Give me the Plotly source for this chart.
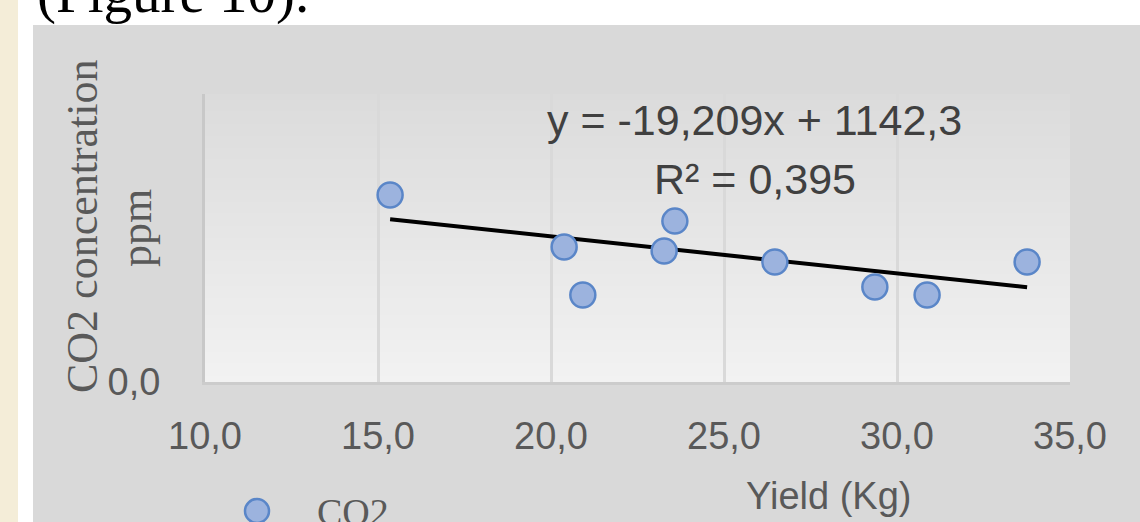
import plotly.graph_objects as go

# Yield (kg) against measured CO2 concentration (ppm)
yield_kg = [15.35, 20.38, 20.92, 23.27, 23.58, 26.47, 29.36, 30.87, 33.76]
co2_ppm = [974, 703, 453, 682, 838, 625, 495, 453, 625]

# Reported linear trend: y = slope * x + intercept
trend_slope = -19.209
trend_intercept = 1142.3
trend_r2 = 0.395

x_tick_values = [10, 15, 20, 25, 30, 35]
y_tick_values = [0]
x_range = [10, 35]
y_range = [0, 1500]

series_name = "CO2"
x_title = "Yield (Kg)"
y_title_lines = ["CO2 concentration", "ppm"]
caption_text = "(Figure 10)."

# Page geometry (pixels)
W, H = 1140, 522
PL, PR, PT, PB = 205, 1070, 94, 382  # plot box edges

def fx(px):
    return (px - PL) / (PR - PL)

def fy(py):
    return (PB - py) / (PB - PT)

def comma(v, nd):
    return f"{v:.{nd}f}".replace(".", ",")

SANS = "Liberation Sans, Arial, sans-serif"
SERIF = "Liberation Serif, Times New Roman, serif"
LABEL_GREY = "#595959"
MARKER_FILL = "#9cb3de"
MARKER_EDGE = "#5a86c8"

fig = go.Figure()

# Trend line over the span of the data
x_lo, x_hi = min(yield_kg), max(yield_kg)
fig.add_trace(go.Scatter(
    x=[x_lo, x_hi],
    y=[trend_slope * x_lo + trend_intercept, trend_slope * x_hi + trend_intercept],
    mode="lines",
    line=dict(color="black", width=4),
    showlegend=False,
    hoverinfo="skip",
))

fig.add_trace(go.Scatter(
    x=yield_kg,
    y=co2_ppm,
    mode="markers",
    name=series_name,
    marker=dict(size=25, color=MARKER_FILL, line=dict(color=MARKER_EDGE, width=2.5)),
    showlegend=False,
))

shapes = []
# left page strip and chart panel
shapes.append(dict(type="rect", xref="paper", yref="paper", layer="below",
                   x0=fx(0), x1=fx(18), y0=fy(H), y1=fy(0),
                   fillcolor="#f4edd8", line=dict(width=0)))
shapes.append(dict(type="rect", xref="paper", yref="paper", layer="below",
                   x0=fx(33), x1=fx(W), y0=fy(H), y1=fy(25),
                   fillcolor="#d9d9d9", line=dict(width=0)))
# soft vertical gradient inside the plot box
n_bands = 48
top_c, bot_c = (0xdb, 0xdb, 0xdb), (0xf2, 0xf2, 0xf2)
for i in range(n_bands):
    t = (i + 0.5) / n_bands
    c = tuple(round(top_c[k] + (bot_c[k] - top_c[k]) * t) for k in range(3))
    shapes.append(dict(type="rect", xref="paper", yref="paper", layer="below",
                       x0=0, x1=1, y0=1 - (i + 1) / n_bands, y1=1 - i / n_bands + 0.001,
                       fillcolor="rgb(%d,%d,%d)" % c, line=dict(width=0)))
# legend swatch
shapes.append(dict(type="circle", xref="paper", yref="paper", layer="above",
                   xsizemode="pixel", ysizemode="pixel",
                   xanchor=fx(257), yanchor=fy(511),
                   x0=-12, x1=12, y0=-12, y1=12,
                   fillcolor=MARKER_FILL, line=dict(color=MARKER_EDGE, width=2.5)))

annotations = [
    dict(text=caption_text, x=fx(35), y=fy(-7), xanchor="left", yanchor="middle",
         font=dict(family=SERIF, size=57, color="black")),
    dict(text=f"y = {comma(trend_slope, 3)}x + {comma(trend_intercept, 1)}",
         x=fx(754), y=fy(120), xanchor="center", yanchor="middle",
         font=dict(family=SANS, size=43, color="#404040")),
    dict(text=f"R² = {comma(trend_r2, 3)}",
         x=fx(755), y=fy(179), xanchor="center", yanchor="middle",
         font=dict(family=SANS, size=43, color="#404040")),
    dict(text=x_title, x=fx(828), y=fy(496), xanchor="center", yanchor="middle",
         font=dict(family=SANS, size=38, color=LABEL_GREY)),
    dict(text=series_name, x=fx(315), y=fy(511.5), xanchor="left", yanchor="middle",
         font=dict(family=SERIF, size=38, color=LABEL_GREY)),
]
# two-line vertical axis title
for line_text, cx, cy in zip(y_title_lines, [82, 136], [226, 228]):
    annotations.append(dict(text=line_text, x=fx(cx), y=fy(cy),
                            xanchor="center", yanchor="middle", textangle=-90,
                            font=dict(family=SERIF, size=44, color=LABEL_GREY)))
for a in annotations:
    a.update(xref="paper", yref="paper", showarrow=False)

fig.update_layout(
    width=W, height=H,
    margin=dict(l=PL, r=W - PR, t=PT, b=H - PB, pad=0),
    paper_bgcolor="white",
    plot_bgcolor="#e8e8e8",
    separators=", ",
    shapes=shapes,
    annotations=annotations,
    showlegend=False,
)
fig.update_xaxes(
    range=x_range, tickvals=x_tick_values, tickformat=".1f",
    showgrid=True, gridcolor="#d9d9d9", gridwidth=3,
    showline=True, linecolor="#cccccc", linewidth=3,
    zeroline=False, ticks="", ticklabelstandoff=18,
    tickfont=dict(family=SANS, size=38, color=LABEL_GREY),
)
fig.update_yaxes(
    range=y_range, tickvals=y_tick_values, tickformat=".1f",
    showgrid=False, showline=True, linecolor="#c8c8c8", linewidth=3,
    zeroline=False, ticks="", ticklabelstandoff=34,
    tickfont=dict(family=SANS, size=38, color=LABEL_GREY),
)

fig.write_html("out.html")
